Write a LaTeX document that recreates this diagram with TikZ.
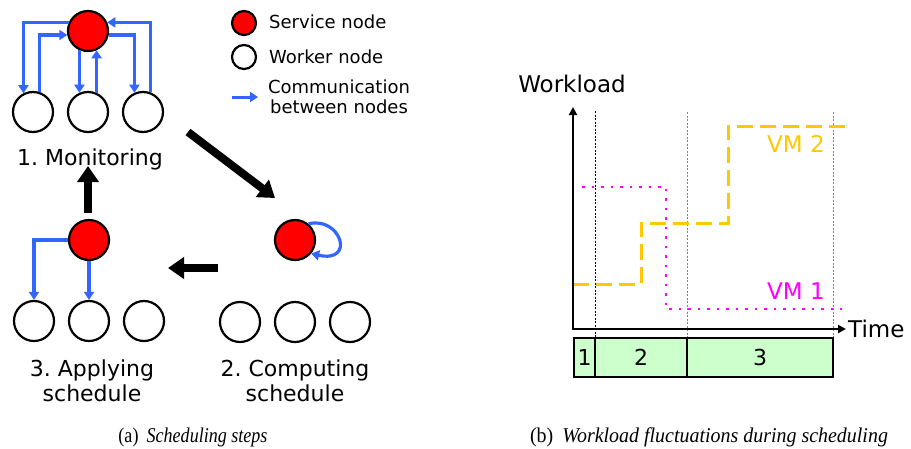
\documentclass[tikz,border=0pt]{standalone}
\usepackage{graphicx}
\usepackage{fontspec}
\setmainfont{DejaVu Sans}
\newfontfamily\capfont{Liberation Serif}
\usetikzlibrary{arrows.meta,calc}
\definecolor{cblue}{RGB}{51,102,255}
\definecolor{cyel}{RGB}{255,200,0}
\definecolor{cmag}{RGB}{255,0,255}
\definecolor{cgreen}{RGB}{204,255,204}
\frenchspacing
\begin{document}
\begin{tikzpicture}[x=1pt,y=-1pt,
  svc/.style={circle,draw=black,line width=2.2pt,fill=red,minimum size=40pt,inner sep=0pt},
  wrk/.style={circle,draw=black,line width=2.2pt,fill=white,minimum size=40pt,inner sep=0pt},
  comm/.style={draw=cblue,line width=3.2pt,-{Triangle[length=8pt,width=10pt]}},
  big/.style={line width=8pt,-{Triangle[length=16pt,width=21pt]}},
  lbl/.style={font=\fontsize{22}{25.5}\selectfont,align=center,inner sep=0pt},
  leg/.style={font=\fontsize{18}{20}\selectfont,inner sep=0pt},
  plt/.style={font=\fontsize{23}{25}\selectfont,inner sep=0pt},
  axis/.style={line width=2.5pt,{Triangle[length=8pt,width=8pt]}-{Triangle[length=8pt,width=8pt]}},
  vline/.style={line width=0.8pt,dash pattern=on 2pt off 1.5pt},
  box/.style={draw=black,fill=cgreen,line width=1.5pt},
  capt/.style={font=\capfont\fontsize{21}{23}\selectfont,inner sep=0pt,anchor=base}]
\useasboundingbox (0,0) rectangle (911,448);

% ---------- (a) step 1: monitoring
\node[svc] (m-s) at (88,31) {};
\node[wrk] (m-w1) at (33,112) {};
\node[wrk] (m-w2) at (88,112) {};
\node[wrk] (m-w3) at (143,112) {};
\draw[comm] (m-s.156) -| (m-w1.117);
\draw[comm] (m-w1.72) |- (m-s.191);
\draw[comm] (m-s.246) -- (m-w2.114);
\draw[comm] (m-w2.66) -- (m-s.294);
\draw[comm] (m-s.349) -| (m-w3.114);
\draw[comm] (m-w3.70) |- (m-s.24);
\node[lbl,anchor=base] (m-l) at (90,165) {1. Monitoring};

% ---------- legend
\node[svc,minimum size=24pt] (lg-s) at (244,23) {};
\node[wrk,minimum size=24pt] (lg-w) at (244,57) {};
\coordinate (lg-a1) at (232,97);
\coordinate (lg-a2) at (258,97);
\draw[comm,line width=3pt] (lg-a1) -- (lg-a2);
\node[leg,anchor=base west] (lg-t1) at (269,28) {Service node};
\node[leg,anchor=base west] (lg-t2) at (269,63) {Worker node};
\node[leg,anchor=north,align=center] (lg-t3) at (339,79.5) {Communication\\between nodes};

% ---------- step 2: computing
\node[svc] (c-s) at (295,240) {};
\draw[comm] (c-s.50) .. controls +(32,-8) and +(45,10) .. (c-s.-40);
\node[wrk] (c-w1) at (240,322) {};
\node[wrk] (c-w2) at (295,322) {};
\node[wrk] (c-w3) at (350,322) {};
\node[lbl,anchor=north] (c-l) at (295,359.5) {2. Computing\\schedule};

% ---------- step 3: applying
\node[svc] (a-s) at (89,240) {};
\node[wrk] (a-w1) at (34,321) {};
\node[wrk] (a-w2) at (89,321) {};
\node[wrk] (a-w3) at (144,321) {};
\draw[comm] (a-s.west) -| (a-w1.north);
\draw[comm] (a-s.south) -- (a-w2.north);
\node[lbl,anchor=north] (a-l) at (92,359.5) {3. Applying\\schedule};

% ---------- big arrows
\coordinate (b1a) at (188,132);
\coordinate (b1b) at (275,198);
\coordinate (b2a) at (218,268);
\coordinate (b2b) at (168,268);
\coordinate (b3a) at (88,213);
\coordinate (b3b) at (88,166);
\draw[big] (b1a) -- (b1b);
\draw[big] (b2a) -- (b2b);
\draw[big] (b3a) -- (b3b);

% ---------- (b) plot
\coordinate (O) at (573,329);
\coordinate (Ytop) at (573,107);
\coordinate (Xend) at (846,329);
\node[plt] (wl) at (572,84) {Workload};
\node[plt,anchor=west] (tm) at (848,329) {Time};

\draw[vline,black] (595,111) -- (595,338);
\draw[vline,gray] (687,112) -- (687,338);
\draw[vline,gray] (833,112) -- (833,338);

\draw[cyel,line width=3pt,dash pattern=on 16pt off 7pt] (573,284) -- (641,284) -- (641,223) -- (728,223) -- (728,126) -- (847,126);
\draw[cmag,line width=2.5pt,dash pattern=on 2.5pt off 7pt] (582,187) -- (666,187) -- (666,309) -- (842,309);
\node[plt,text=cyel] (vm2) at (796,144) {VM 2};
\node[plt,text=cmag] (vm1) at (796,291) {VM 1};

\draw[axis] (Ytop) -- (O) -- (Xend);

\draw[box] (574,338) rectangle (595,377);
\draw[box] (595,338) rectangle (687,377);
\draw[box] (687,338) rectangle (833,377);
\node[font=\fontsize{22}{24}\selectfont] (p1) at (584.5,357.5) {1};
\node[font=\fontsize{22}{24}\selectfont] (p2) at (641,357.5) {2};
\node[font=\fontsize{22}{24}\selectfont] (p3) at (760,357.5) {3};

% ---------- captions
\node[capt] (capa) at (193,442) {\scalebox{0.86}[1]{(a)\hspace{0.45em}\itshape Scheduling steps}};
\node[capt] (capb) at (709,442) {\scalebox{0.95}[1]{(b)\hspace{0.45em}\itshape Workload fluctuations during scheduling}};
\end{tikzpicture}
\end{document}
